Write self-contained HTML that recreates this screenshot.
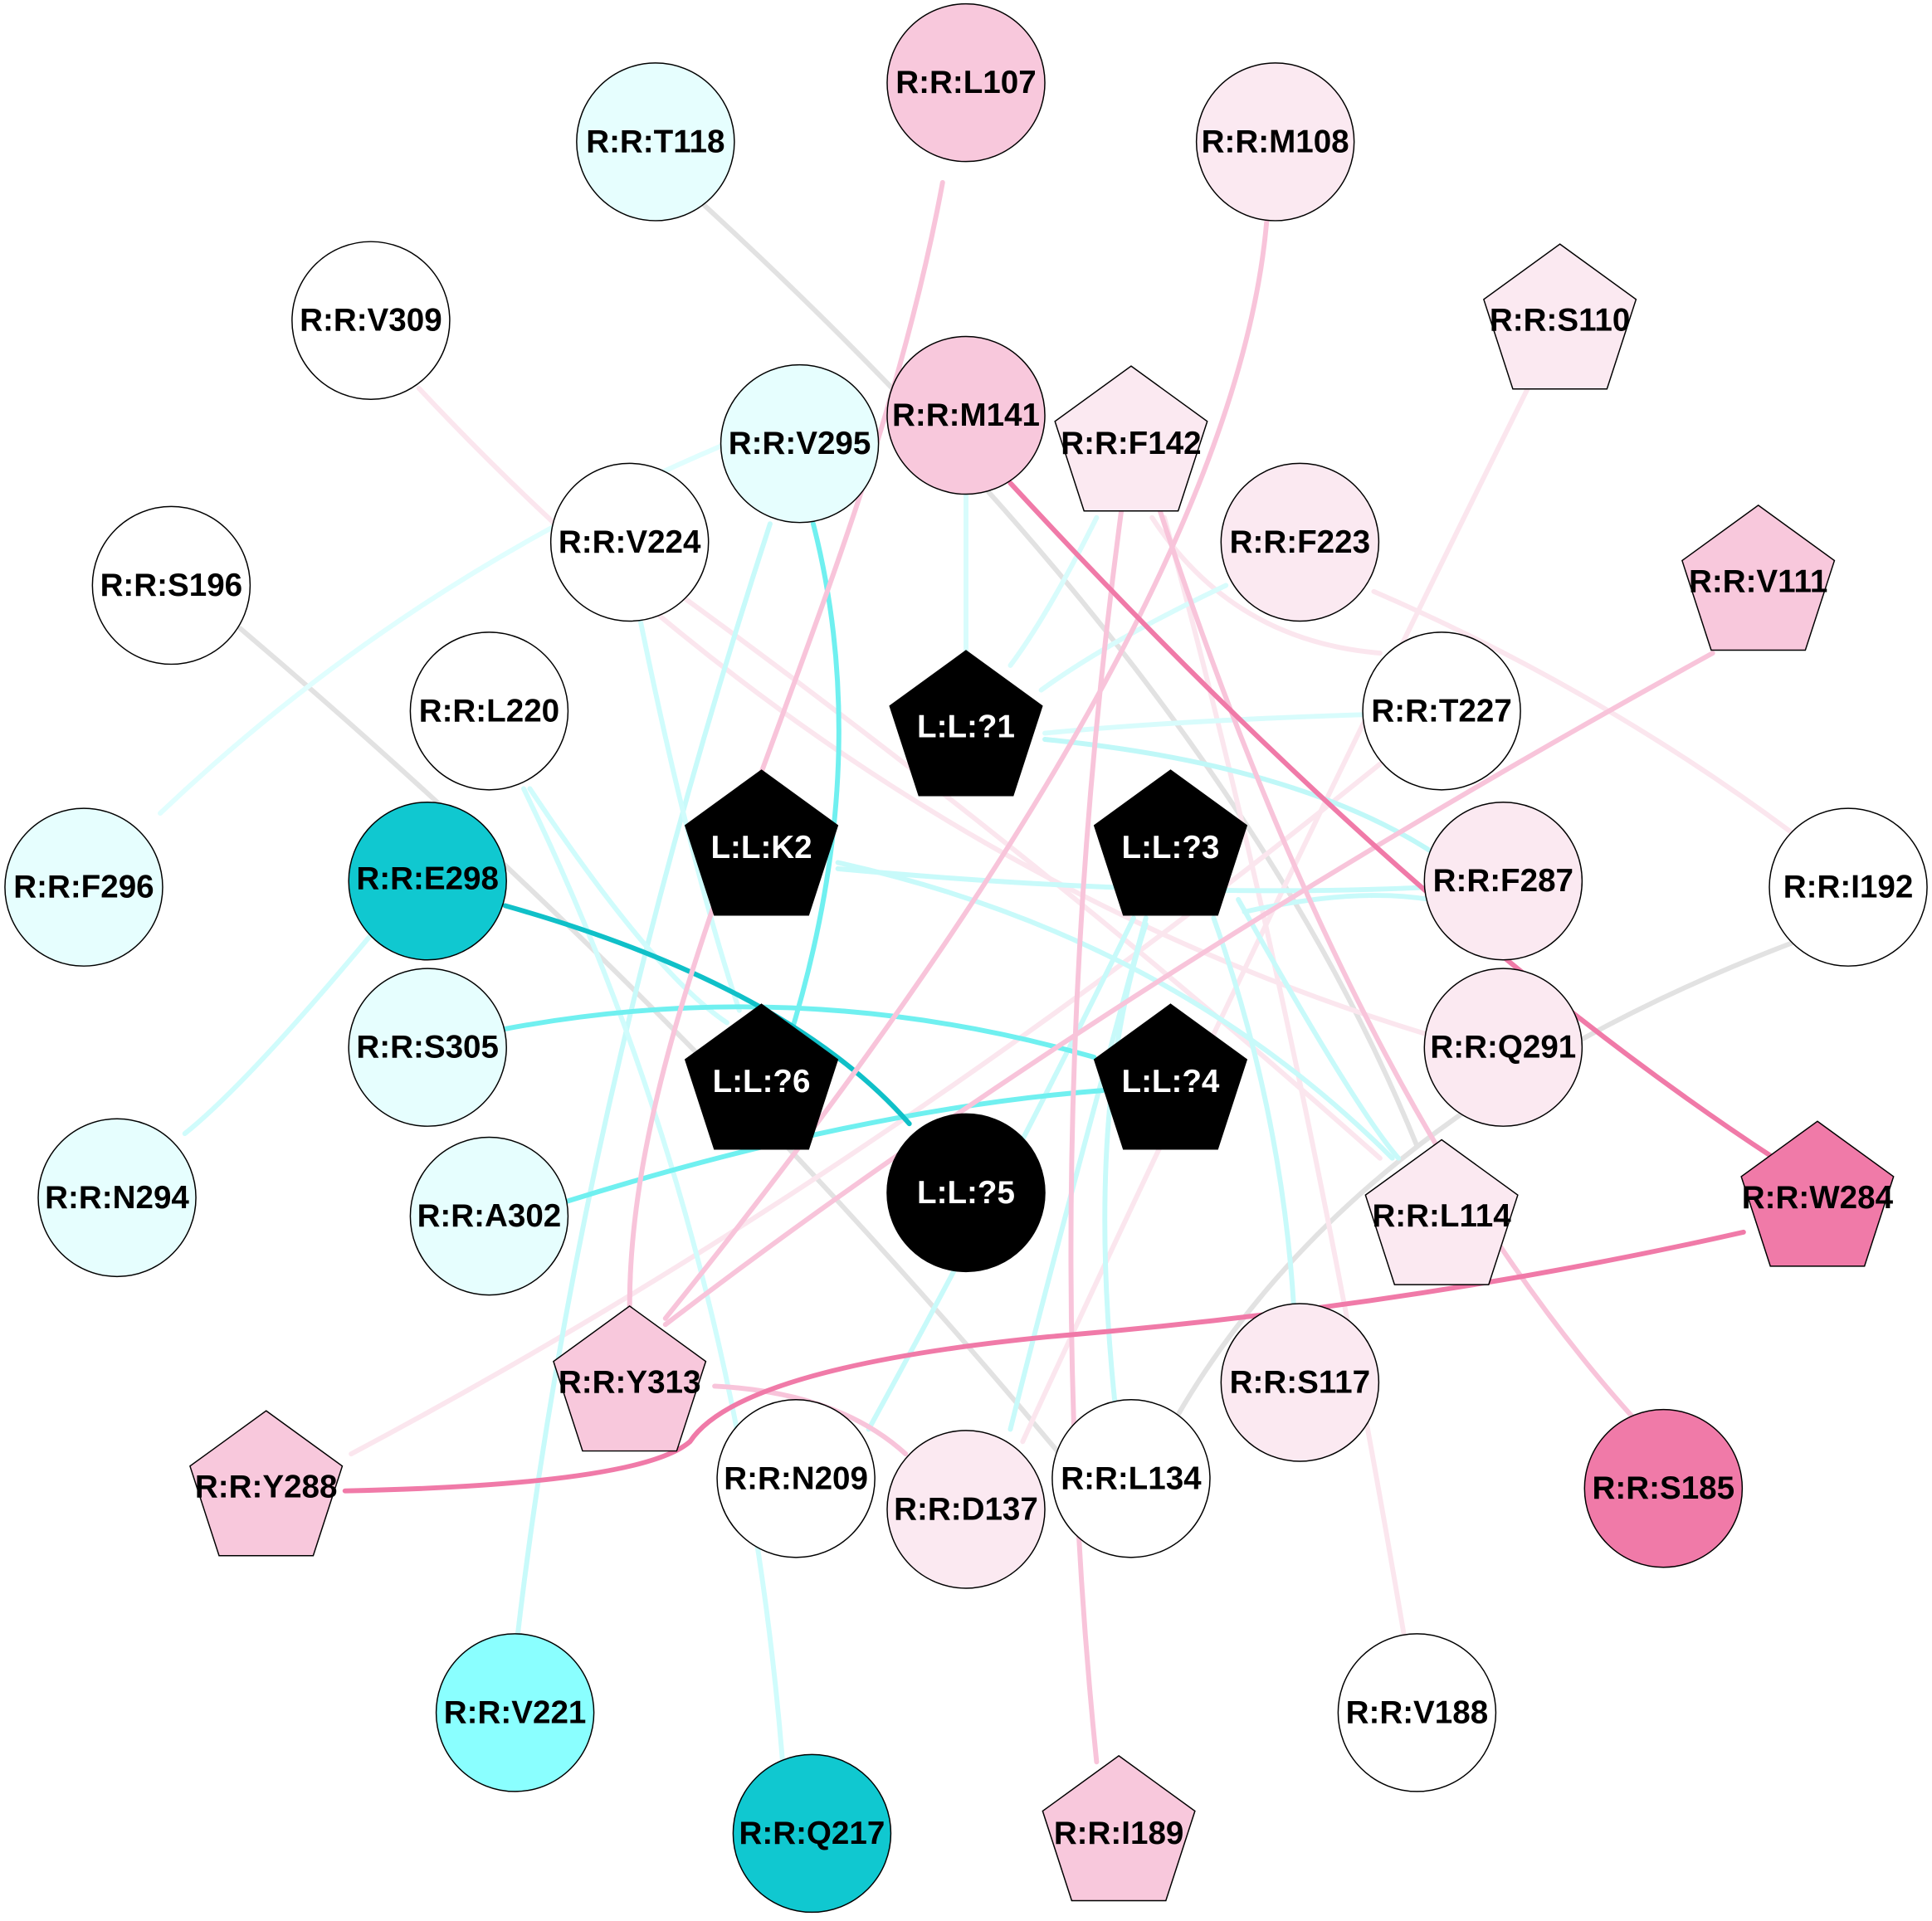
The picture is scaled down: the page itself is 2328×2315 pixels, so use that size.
<!DOCTYPE html>
<html><head><meta charset="utf-8"><style>
html,body{margin:0;padding:0;background:#fff}
svg{display:block}
text{font-family:"Liberation Sans",Arial,sans-serif;font-weight:bold;font-size:26px;text-anchor:middle;dominant-baseline:central}
</style></head><body>
<svg width="2328" height="2315" viewBox="0 0 1568 1559" xmlns="http://www.w3.org/2000/svg">
<rect width="1568" height="1559" fill="#fff"/>
<g fill="none" stroke-width="4" stroke-linecap="round">
<path d="M570,165 Q1000,560 1150,930" stroke="#e2e2e2"/>
<path d="M195,510 Q560,820 860,1180" stroke="#e2e2e2"/>
<path d="M1455,765 Q1100,900 955,1150" stroke="#e2e2e2"/>
<path d="M1240,315 Q1000,800 830,1170" stroke="#fbe6ee"/>
<path d="M1120,620 Q700,960 285,1180" stroke="#fbe6ee"/>
<path d="M340,315 Q700,700 1160,840" stroke="#fbe6ee"/>
<path d="M555,485 Q850,700 1120,940" stroke="#fbe6ee"/>
<path d="M1115,480 Q1300,560 1460,680" stroke="#fbe6ee"/>
<path d="M1140,1330 Q1050,800 945,420" stroke="#fbe6ee"/>
<path d="M935,420 Q1000,520 1120,530" stroke="#fbe6ee"/>
<path d="M784,400 L784,528" stroke="#d8fcfc"/>
<path d="M890,420 Q850,500 820,540" stroke="#d8fcfc"/>
<path d="M995,475 Q900,520 845,560" stroke="#d8fcfc"/>
<path d="M1105,580 Q950,585 848,595" stroke="#d8fcfc"/>
<path d="M848,600 Q1050,620 1160,690" stroke="#c0f8f8"/>
<path d="M585,362 Q330,470 130,660" stroke="#e0fefe"/>
<path d="M625,425 Q470,900 420,1328" stroke="#c8fafa"/>
<path d="M520,505 Q560,700 600,820" stroke="#d0fcfc"/>
<path d="M430,640 Q530,790 590,830" stroke="#d0fcfc"/>
<path d="M425,640 Q600,1000 635,1428" stroke="#d0fcfc"/>
<path d="M300,760 Q200,880 150,920" stroke="#d0fcfc"/>
<path d="M680,705 Q950,730 1160,720" stroke="#c8fafa"/>
<path d="M680,700 Q950,760 1130,940" stroke="#c8fafa"/>
<path d="M920,745 Q820,950 705,1160" stroke="#c8fafa"/>
<path d="M930,745 Q860,1000 820,1160" stroke="#c8fafa"/>
<path d="M985,745 Q1040,900 1050,1060" stroke="#c8fafa"/>
<path d="M1005,730 Q1100,900 1135,940" stroke="#c8fafa"/>
<path d="M1010,740 Q1100,720 1160,730" stroke="#c8fafa"/>
<path d="M930,750 Q880,900 905,1140" stroke="#c8fafa"/>
<path d="M660,425 Q710,620 640,845" stroke="#70f0f0"/>
<path d="M410,835 Q650,790 888,858" stroke="#70f0f0"/>
<path d="M460,975 Q700,900 895,885" stroke="#70f0f0"/>
<path d="M410,735 Q640,800 738,912" stroke="#10c0c8"/>
<path d="M765,148 C700,500 511,800 511,1060" stroke="#f8c4da"/>
<path d="M1028,180 Q1000,500 540,1070" stroke="#f8c4da"/>
<path d="M1390,530 Q900,800 540,1075" stroke="#f8c4da"/>
<path d="M910,415 Q840,940 890,1430" stroke="#f8c4da"/>
<path d="M940,410 Q1100,900 1325,1150" stroke="#f8c4da"/>
<path d="M580,1125 Q680,1130 735,1180" stroke="#f8c4da"/>
<path d="M820,392 Q1150,750 1440,940" stroke="#f07aa8"/>
<path d="M280,1210 Q520,1205 560,1170 Q600,1110 850,1085 Q1150,1060 1415,1000" stroke="#f07aa8"/>
</g>
<g stroke="#000" stroke-width="1">
<circle cx="532" cy="115" r="64" fill="#e6fefe"/>
<circle cx="784" cy="67" r="64" fill="#f8c8dc"/>
<circle cx="1035" cy="115" r="64" fill="#fbe9f1"/>
<circle cx="301" cy="260" r="64" fill="#fff"/>
<circle cx="784" cy="337" r="64" fill="#f8c8dc"/>
<circle cx="649" cy="360" r="64" fill="#e6fefe"/>
<circle cx="511" cy="440" r="64" fill="#fff"/>
<circle cx="1055" cy="440" r="64" fill="#fbe9f1"/>
<circle cx="139" cy="475" r="64" fill="#fff"/>
<circle cx="397" cy="577" r="64" fill="#fff"/>
<circle cx="1170" cy="577" r="64" fill="#fff"/>
<circle cx="68" cy="720" r="64" fill="#e6fefe"/>
<circle cx="347" cy="715" r="64" fill="#10c8d0"/>
<circle cx="1220" cy="715" r="64" fill="#fbe9f1"/>
<circle cx="1500" cy="720" r="64" fill="#fff"/>
<circle cx="347" cy="850" r="64" fill="#e6fefe"/>
<circle cx="1220" cy="850" r="64" fill="#fbe9f1"/>
<circle cx="95" cy="972" r="64" fill="#e6fefe"/>
<circle cx="784" cy="968" r="64" fill="#000"/>
<circle cx="397" cy="987" r="64" fill="#e6fefe"/>
<circle cx="1055" cy="1122" r="64" fill="#fbe9f1"/>
<circle cx="646" cy="1200" r="64" fill="#fff"/>
<circle cx="784" cy="1225" r="64" fill="#fbe9f1"/>
<circle cx="918" cy="1200" r="64" fill="#fff"/>
<circle cx="1350" cy="1208" r="64" fill="#f07aa8"/>
<circle cx="418" cy="1390" r="64" fill="#8affff"/>
<circle cx="1150" cy="1390" r="64" fill="#fff"/>
<circle cx="659" cy="1488" r="64" fill="#10c8d0"/>
</g>
<g stroke="#000" stroke-width="1">
<polygon points="0,-65 61.8,-20.1 38.2,52.6 -38.2,52.6 -61.8,-20.1" transform="translate(1266,263)" fill="#fbe9f1"/>
<polygon points="0,-65 61.8,-20.1 38.2,52.6 -38.2,52.6 -61.8,-20.1" transform="translate(918,362)" fill="#fbe9f1"/>
<polygon points="0,-65 61.8,-20.1 38.2,52.6 -38.2,52.6 -61.8,-20.1" transform="translate(1427,475)" fill="#f8c8dc"/>
<polygon points="0,-65 61.8,-20.1 38.2,52.6 -38.2,52.6 -61.8,-20.1" transform="translate(784,593)" fill="#000"/>
<polygon points="0,-65 61.8,-20.1 38.2,52.6 -38.2,52.6 -61.8,-20.1" transform="translate(618,690)" fill="#000"/>
<polygon points="0,-65 61.8,-20.1 38.2,52.6 -38.2,52.6 -61.8,-20.1" transform="translate(950,690)" fill="#000"/>
<polygon points="0,-65 61.8,-20.1 38.2,52.6 -38.2,52.6 -61.8,-20.1" transform="translate(618,880)" fill="#000"/>
<polygon points="0,-65 61.8,-20.1 38.2,52.6 -38.2,52.6 -61.8,-20.1" transform="translate(950,880)" fill="#000"/>
<polygon points="0,-65 61.8,-20.1 38.2,52.6 -38.2,52.6 -61.8,-20.1" transform="translate(1170,990)" fill="#fbe9f1"/>
<polygon points="0,-65 61.8,-20.1 38.2,52.6 -38.2,52.6 -61.8,-20.1" transform="translate(1475,975)" fill="#f07aa8"/>
<polygon points="0,-65 61.8,-20.1 38.2,52.6 -38.2,52.6 -61.8,-20.1" transform="translate(511,1125)" fill="#f8c8dc"/>
<polygon points="0,-65 61.8,-20.1 38.2,52.6 -38.2,52.6 -61.8,-20.1" transform="translate(216,1210)" fill="#f8c8dc"/>
<polygon points="0,-65 61.8,-20.1 38.2,52.6 -38.2,52.6 -61.8,-20.1" transform="translate(908,1490)" fill="#f8c8dc"/>
</g>
<g fill="#000">
<text x="532" y="115">R:R:T118</text>
<text x="784" y="67">R:R:L107</text>
<text x="1035" y="115">R:R:M108</text>
<text x="301" y="260">R:R:V309</text>
<text x="1266" y="260">R:R:S110</text>
<text x="784" y="337">R:R:M141</text>
<text x="918" y="360">R:R:F142</text>
<text x="649" y="360">R:R:V295</text>
<text x="511" y="440">R:R:V224</text>
<text x="1055" y="440">R:R:F223</text>
<text x="139" y="475">R:R:S196</text>
<text x="1427" y="472">R:R:V111</text>
<text x="397" y="577">R:R:L220</text>
<text x="1170" y="577">R:R:T227</text>
<text x="68" y="720">R:R:F296</text>
<text x="347" y="713">R:R:E298</text>
<text x="1220" y="715">R:R:F287</text>
<text x="1500" y="720">R:R:I192</text>
<text x="347" y="850">R:R:S305</text>
<text x="1220" y="850">R:R:Q291</text>
<text x="95" y="972">R:R:N294</text>
<text x="397" y="987">R:R:A302</text>
<text x="1170" y="987">R:R:L114</text>
<text x="1475" y="972">R:R:W284</text>
<text x="511" y="1122">R:R:Y313</text>
<text x="1055" y="1122">R:R:S117</text>
<text x="216" y="1207">R:R:Y288</text>
<text x="646" y="1200">R:R:N209</text>
<text x="784" y="1225">R:R:D137</text>
<text x="918" y="1200">R:R:L134</text>
<text x="1350" y="1208">R:R:S185</text>
<text x="418" y="1390">R:R:V221</text>
<text x="1150" y="1390">R:R:V188</text>
<text x="659" y="1488">R:R:Q217</text>
<text x="908" y="1488">R:R:I189</text>
</g>
<g fill="#fff">
<text x="784" y="590">L:L:?1</text>
<text x="618" y="688">L:L:K2</text>
<text x="950" y="688">L:L:?3</text>
<text x="618" y="878">L:L:?6</text>
<text x="950" y="878">L:L:?4</text>
<text x="784" y="968">L:L:?5</text>
</g>
</svg>
</body></html>
